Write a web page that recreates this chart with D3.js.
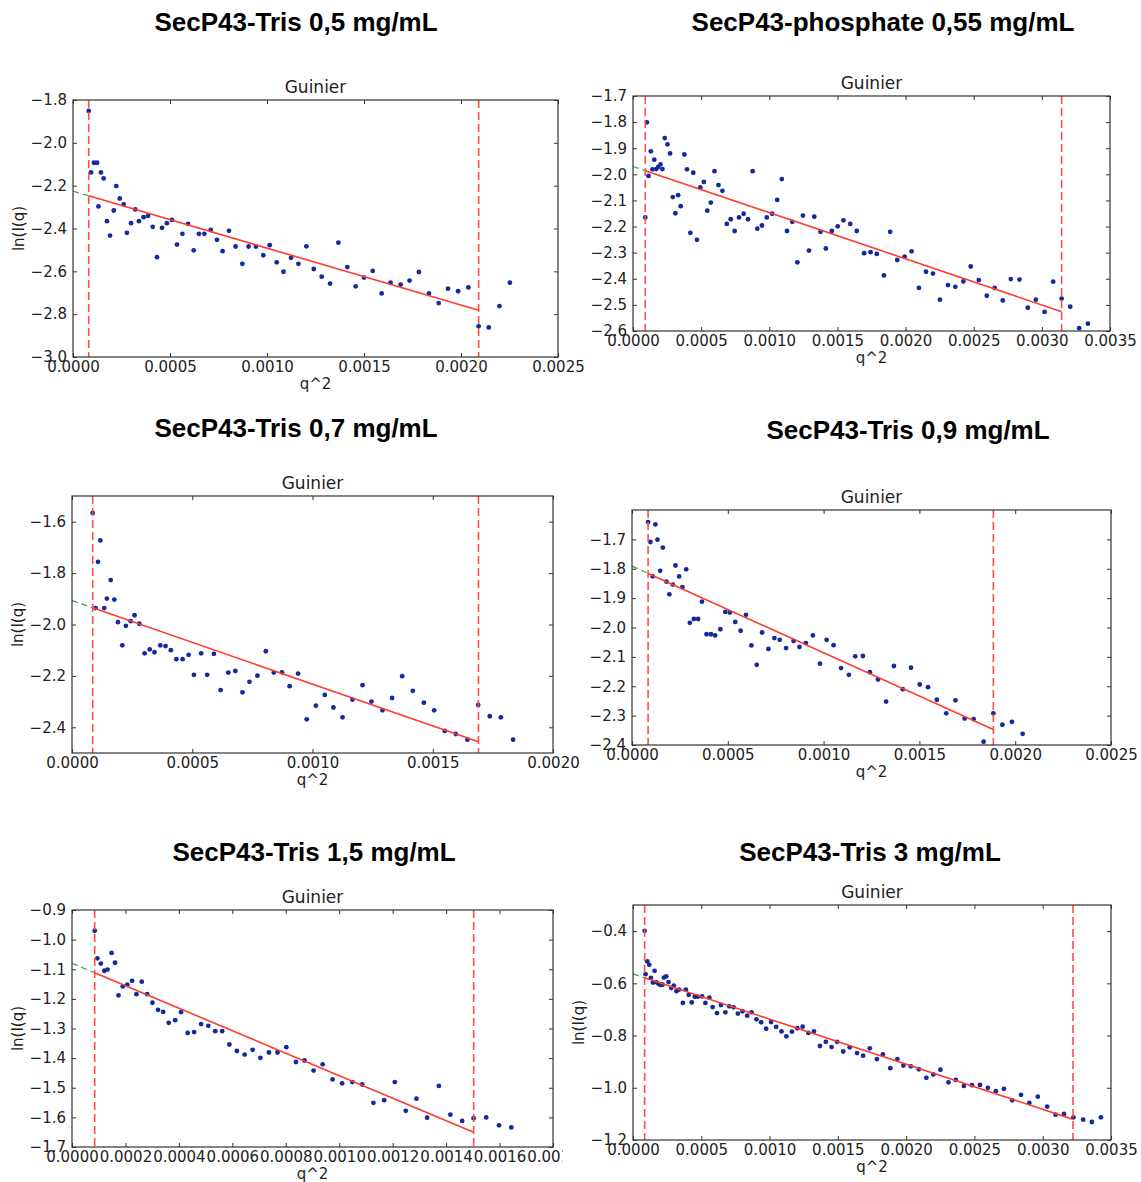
<!DOCTYPE html>
<html>
<head>
<meta charset="utf-8">
<script src="https://cdn.jsdelivr.net/npm/d3@7"></script>
<style>
  body { margin: 0; background: #fff; }
</style>
</head>
<body>
<script>
// panel titles
var titles = ["SecP43-Tris 0,5 mg/mL", "SecP43-phosphate 0,55 mg/mL", "SecP43-Tris 0,7 mg/mL",
              "SecP43-Tris 0,9 mg/mL", "SecP43-Tris 1,5 mg/mL", "SecP43-Tris 3 mg/mL"];

// [q^2, ln(I(q))]
var tris05 = [[0.000081,-1.851],[0.000093,-2.138],[0.000108,-2.093],[0.000124,-2.093],[0.000131,-2.297],[0.000144,-2.138],[0.000158,-2.166],[0.000175,-2.366],[0.000191,-2.433],[0.000210,-2.316],[0.000223,-2.202],[0.000241,-2.260],[0.000261,-2.288],[0.000278,-2.420],[0.000299,-2.375],[0.000321,-2.311],[0.000340,-2.366],[0.000364,-2.347],[0.000387,-2.341],[0.000411,-2.392],[0.000433,-2.534],[0.000459,-2.397],[0.000484,-2.375],[0.000510,-2.360],[0.000536,-2.475],[0.000564,-2.425],[0.000593,-2.378],[0.000622,-2.502],[0.000649,-2.425],[0.000677,-2.425],[0.000710,-2.406],[0.000742,-2.453],[0.000771,-2.506],[0.000804,-2.411],[0.000838,-2.484],[0.000873,-2.565],[0.000905,-2.484],[0.000943,-2.484],[0.000981,-2.525],[0.001014,-2.478],[0.001050,-2.558],[0.001085,-2.602],[0.001124,-2.537],[0.001162,-2.565],[0.001203,-2.483],[0.001241,-2.589],[0.001282,-2.625],[0.001325,-2.657],[0.001368,-2.466],[0.001414,-2.580],[0.001457,-2.670],[0.001500,-2.629],[0.001545,-2.598],[0.001591,-2.703],[0.001637,-2.653],[0.001689,-2.662],[0.001735,-2.643],[0.001783,-2.603],[0.001835,-2.703],[0.001885,-2.748],[0.001933,-2.681],[0.001985,-2.693],[0.002038,-2.675],[0.002091,-2.857],[0.002143,-2.862],[0.002198,-2.762],[0.002252,-2.653]];
var phos055 = [[0.000090,-2.165],[0.000102,-1.801],[0.000114,-2.006],[0.000131,-1.912],[0.000143,-1.981],[0.000156,-1.944],[0.000170,-1.980],[0.000185,-1.972],[0.000202,-1.962],[0.000216,-1.980],[0.000233,-1.861],[0.000253,-1.885],[0.000272,-1.920],[0.000292,-2.087],[0.000311,-2.149],[0.000331,-2.080],[0.000350,-2.122],[0.000377,-1.924],[0.000396,-1.981],[0.000421,-2.224],[0.000442,-1.994],[0.000469,-2.251],[0.000494,-2.050],[0.000520,-2.029],[0.000545,-2.139],[0.000571,-2.108],[0.000598,-1.988],[0.000627,-2.041],[0.000656,-2.063],[0.000688,-2.190],[0.000717,-2.172],[0.000746,-2.217],[0.000778,-2.165],[0.000812,-2.151],[0.000844,-2.172],[0.000878,-1.988],[0.000912,-2.208],[0.000946,-2.196],[0.000982,-2.165],[0.001021,-2.151],[0.001058,-2.098],[0.001092,-2.018],[0.001130,-2.217],[0.001169,-2.182],[0.001206,-2.337],[0.001247,-2.158],[0.001291,-2.292],[0.001330,-2.162],[0.001376,-2.220],[0.001415,-2.284],[0.001459,-2.217],[0.001502,-2.199],[0.001544,-2.176],[0.001594,-2.190],[0.001642,-2.217],[0.001696,-2.302],[0.001743,-2.298],[0.001789,-2.305],[0.001841,-2.387],[0.001887,-2.220],[0.001939,-2.328],[0.001993,-2.315],[0.002044,-2.295],[0.002098,-2.435],[0.002150,-2.373],[0.002201,-2.380],[0.002252,-2.480],[0.002311,-2.424],[0.002365,-2.431],[0.002424,-2.410],[0.002478,-2.353],[0.002537,-2.405],[0.002596,-2.465],[0.002654,-2.435],[0.002713,-2.483],[0.002772,-2.401],[0.002836,-2.403],[0.002897,-2.511],[0.002956,-2.480],[0.003020,-2.527],[0.003083,-2.411],[0.003145,-2.476],[0.003208,-2.507],[0.003274,-2.589],[0.003338,-2.572]];
var tris07 = [[0.000086,-1.566],[0.000098,-1.936],[0.000108,-1.756],[0.000118,-1.673],[0.000134,-1.936],[0.000145,-1.899],[0.000161,-1.827],[0.000176,-1.903],[0.000191,-1.991],[0.000209,-2.081],[0.000224,-2.005],[0.000244,-1.987],[0.000260,-1.964],[0.000280,-1.997],[0.000302,-2.112],[0.000323,-2.097],[0.000343,-2.108],[0.000367,-2.081],[0.000389,-2.084],[0.000411,-2.100],[0.000434,-2.135],[0.000460,-2.135],[0.000485,-2.118],[0.000507,-2.196],[0.000537,-2.112],[0.000562,-2.196],[0.000590,-2.114],[0.000618,-2.255],[0.000650,-2.187],[0.000679,-2.181],[0.000709,-2.264],[0.000738,-2.223],[0.000771,-2.199],[0.000806,-2.104],[0.000839,-2.187],[0.000873,-2.186],[0.000905,-2.240],[0.000940,-2.191],[0.000976,-2.369],[0.001014,-2.316],[0.001051,-2.274],[0.001087,-2.323],[0.001125,-2.361],[0.001166,-2.292],[0.001208,-2.236],[0.001245,-2.300],[0.001291,-2.334],[0.001331,-2.286],[0.001373,-2.201],[0.001417,-2.258],[0.001463,-2.304],[0.001506,-2.334],[0.001550,-2.414],[0.001596,-2.426],[0.001644,-2.448],[0.001689,-2.313],[0.001737,-2.357],[0.001783,-2.361],[0.001834,-2.448]];
var tris09 = [[0.000084,-1.641],[0.000096,-1.709],[0.000108,-1.826],[0.000122,-1.649],[0.000133,-1.701],[0.000147,-1.807],[0.000161,-1.728],[0.000180,-1.844],[0.000195,-1.887],[0.000213,-1.854],[0.000227,-1.789],[0.000246,-1.826],[0.000263,-1.863],[0.000283,-1.802],[0.000302,-1.984],[0.000323,-1.971],[0.000345,-1.971],[0.000365,-1.912],[0.000389,-2.023],[0.000412,-2.023],[0.000434,-2.027],[0.000461,-2.006],[0.000487,-1.947],[0.000511,-1.949],[0.000539,-1.981],[0.000567,-2.011],[0.000595,-1.957],[0.000623,-2.061],[0.000651,-2.127],[0.000679,-2.017],[0.000712,-2.073],[0.000743,-2.036],[0.000771,-2.042],[0.000804,-2.070],[0.000843,-2.046],[0.000874,-2.066],[0.000907,-2.053],[0.000944,-2.027],[0.000981,-2.123],[0.001016,-2.042],[0.001052,-2.060],[0.001091,-2.138],[0.001132,-2.161],[0.001165,-2.098],[0.001205,-2.097],[0.001242,-2.152],[0.001284,-2.177],[0.001326,-2.252],[0.001367,-2.131],[0.001413,-2.210],[0.001456,-2.137],[0.001502,-2.194],[0.001545,-2.203],[0.001591,-2.246],[0.001640,-2.292],[0.001688,-2.248],[0.001736,-2.310],[0.001783,-2.312],[0.001835,-2.389],[0.001886,-2.292],[0.001933,-2.331],[0.001983,-2.321],[0.002039,-2.362]];
var tris15 = [[0.000085,-0.970],[0.000095,-1.063],[0.000108,-1.081],[0.000121,-1.105],[0.000133,-1.101],[0.000148,-1.045],[0.000161,-1.078],[0.000174,-1.188],[0.000190,-1.158],[0.000207,-1.152],[0.000225,-1.139],[0.000241,-1.184],[0.000261,-1.142],[0.000281,-1.184],[0.000301,-1.213],[0.000322,-1.237],[0.000341,-1.244],[0.000362,-1.281],[0.000386,-1.272],[0.000408,-1.245],[0.000433,-1.315],[0.000457,-1.312],[0.000483,-1.285],[0.000510,-1.291],[0.000536,-1.309],[0.000562,-1.309],[0.000589,-1.354],[0.000617,-1.376],[0.000646,-1.388],[0.000676,-1.372],[0.000705,-1.399],[0.000737,-1.381],[0.000769,-1.381],[0.000802,-1.363],[0.000838,-1.413],[0.000870,-1.408],[0.000904,-1.442],[0.000938,-1.421],[0.000975,-1.472],[0.001011,-1.485],[0.001049,-1.481],[0.001086,-1.489],[0.001128,-1.551],[0.001168,-1.542],[0.001208,-1.481],[0.001249,-1.578],[0.001289,-1.537],[0.001329,-1.601],[0.001373,-1.494],[0.001416,-1.591],[0.001460,-1.612],[0.001503,-1.603],[0.001550,-1.600],[0.001598,-1.627],[0.001644,-1.634]];
var tris3 = [[0.000085,-0.399],[0.000092,-0.565],[0.000105,-0.516],[0.000119,-0.529],[0.000131,-0.579],[0.000146,-0.597],[0.000158,-0.552],[0.000173,-0.596],[0.000187,-0.602],[0.000202,-0.606],[0.000216,-0.605],[0.000226,-0.578],[0.000243,-0.573],[0.000260,-0.595],[0.000280,-0.618],[0.000299,-0.609],[0.000318,-0.630],[0.000338,-0.624],[0.000365,-0.675],[0.000387,-0.624],[0.000408,-0.644],[0.000430,-0.673],[0.000452,-0.651],[0.000474,-0.651],[0.000506,-0.650],[0.000530,-0.675],[0.000559,-0.655],[0.000583,-0.691],[0.000615,-0.714],[0.000644,-0.683],[0.000676,-0.711],[0.000705,-0.688],[0.000737,-0.692],[0.000768,-0.716],[0.000802,-0.707],[0.000836,-0.724],[0.000868,-0.711],[0.000904,-0.738],[0.000938,-0.749],[0.000975,-0.774],[0.001011,-0.748],[0.001048,-0.767],[0.001087,-0.784],[0.001123,-0.803],[0.001164,-0.785],[0.001203,-0.772],[0.001242,-0.766],[0.001284,-0.790],[0.001325,-0.784],[0.001369,-0.840],[0.001412,-0.824],[0.001454,-0.844],[0.001495,-0.824],[0.001539,-0.861],[0.001587,-0.845],[0.001641,-0.867],[0.001685,-0.877],[0.001734,-0.849],[0.001786,-0.890],[0.001830,-0.872],[0.001884,-0.925],[0.001936,-0.890],[0.001980,-0.915],[0.002034,-0.918],[0.002093,-0.929],[0.002148,-0.962],[0.002199,-0.949],[0.002251,-0.931],[0.002310,-0.979],[0.002364,-0.970],[0.002423,-0.993],[0.002482,-0.990],[0.002541,-0.989],[0.002598,-1.000],[0.002657,-1.013],[0.002716,-1.004],[0.002777,-1.048],[0.002841,-1.027],[0.002902,-1.058],[0.002964,-1.034],[0.003033,-1.072],[0.003094,-1.103],[0.003156,-1.100],[0.003225,-1.113],[0.003296,-1.122],[0.003360,-1.131],[0.003426,-1.113]];

// Guinier range limits (q^2 min / max) per panel
var cutLines = [[0.000081, 0.002091], [0.000090, 0.003145], [0.000086, 0.001690],
                [0.000084, 0.001886], [0.000085, 0.001503], [0.000085, 0.003222]];
// fitted line end points
var fitLines = [[[0.000081,-2.247],[0.002091,-2.782]], [[0.000090,-1.986],[0.003145,-2.526]],
                [[0.000086,-1.935],[0.001690,-2.456]], [[0.000084,-1.816],[0.001886,-2.347]],
                [[0.000085,-1.112],[0.001503,-1.650]], [[0.000085,-0.579],[0.003222,-1.121]]];
// extrapolation to q^2 = 0
var guideLines = [[[0,-2.226],[0.000081,-2.247]], [[0,-1.970],[0.000090,-1.986]],
                  [[0,-1.907],[0.000086,-1.935]], [[0,-1.791],[0.000084,-1.816]],
                  [[0,-1.080],[0.000085,-1.112]], [[0,-0.564],[0.000085,-0.579]]];

// axis ranges and tick values
var xDomains = [[0, 0.0025], [0, 0.0035], [0, 0.0020], [0, 0.0025], [0, 0.0018], [0, 0.0035]];
var yDomains = [[-3.0, -1.8], [-2.6, -1.7], [-2.5, -1.5], [-2.4, -1.6], [-1.7, -0.9], [-1.2, -0.3]];
var xTicks = [
    [0, 0.0005, 0.0010, 0.0015, 0.0020, 0.0025],
    [0, 0.0005, 0.0010, 0.0015, 0.0020, 0.0025, 0.0030, 0.0035],
    [0, 0.0005, 0.0010, 0.0015, 0.0020],
    [0, 0.0005, 0.0010, 0.0015, 0.0020, 0.0025],
    [0, 0.0002, 0.0004, 0.0006, 0.0008, 0.0010, 0.0012, 0.0014, 0.0016, 0.0018],
    [0, 0.0005, 0.0010, 0.0015, 0.0020, 0.0025, 0.0030, 0.0035]
];
var yTicks = [
    [-3.0, -2.8, -2.6, -2.4, -2.2, -2.0, -1.8],
    [-2.6, -2.5, -2.4, -2.3, -2.2, -2.1, -2.0, -1.9, -1.8, -1.7],
    [-2.4, -2.2, -2.0, -1.8, -1.6],
    [-2.4, -2.3, -2.2, -2.1, -2.0, -1.9, -1.8, -1.7],
    [-1.7, -1.6, -1.5, -1.4, -1.3, -1.2, -1.1, -1.0, -0.9],
    [-1.2, -1.0, -0.8, -0.6, -0.4]
];
var seriesList = [tris05, phos055, tris07, tris09, tris15, tris3];

// layout of the six pasted plots
var boxes = [
    {left: 73, top: 100, right: 558, bottom: 357, tx: 296, ty: 31, ylab: true},
    {left: 633, top: 96, right: 1110, bottom: 331, tx: 883, ty: 31, ylab: false},
    {left: 72, top: 496, right: 553, bottom: 753, tx: 296, ty: 437, ylab: true},
    {left: 632, top: 510, right: 1111, bottom: 745, tx: 908, ty: 439, ylab: false},
    {left: 72, top: 910, right: 553, bottom: 1147, tx: 314, ty: 861, ylab: true, clip: 563},
    {left: 633, top: 905, right: 1111, bottom: 1140, tx: 870, ty: 861, ylab: true}
];

var w = 1141;
var h = 1182;
var tickFont = "'DejaVu Sans', sans-serif";

var svg = d3.select("body")
    .append("svg")
    .attr("width", w)
    .attr("height", h);

boxes.forEach(function (b, i) {
    drawPanel(b, i);
});

function drawPanel(b, i) {
    var xScale = d3.scaleLinear().domain(xDomains[i]).range([b.left, b.right]);
    var yScale = d3.scaleLinear().domain(yDomains[i]).range([b.bottom, b.top]);

    // big bold title above each plot
    svg.append("text")
        .attr("x", b.tx)
        .attr("y", b.ty)
        .attr("text-anchor", "middle")
        .attr("font-family", "'Liberation Sans', Arial, sans-serif")
        .attr("font-weight", "bold")
        .attr("font-size", 26)
        .attr("fill", "#000")
        .text(titles[i]);

    var g = svg.append("g");
    if (b.clip) {
        // the pasted picture is cut off on its right side
        svg.append("clipPath")
            .attr("id", "clip" + i)
            .append("rect")
            .attr("x", 0).attr("y", b.top - 40)
            .attr("width", b.clip).attr("height", h - b.top + 40);
        g.attr("clip-path", "url(#clip" + i + ")");
    }

    g.append("text")
        .attr("x", (b.left + b.right) / 2)
        .attr("y", b.top - 7)
        .attr("text-anchor", "middle")
        .attr("font-family", tickFont)
        .attr("font-size", 17)
        .attr("fill", "#222")
        .text("Guinier");

    // scatter points
    g.selectAll(".dot")
        .data(seriesList[i])
        .enter()
        .append("circle")
        .attr("cx", function (d) { return xScale(d[0]); })
        .attr("cy", function (d) { return yScale(d[1]); })
        .attr("r", 2.4)
        .style("fill", "#14299c");

    var line = d3.line()
        .x(function (d) { return xScale(d[0]); })
        .y(function (d) { return yScale(d[1]); });

    g.append("path")
        .datum(guideLines[i])
        .attr("fill", "none")
        .attr("stroke", "#3fa33f")
        .attr("stroke-width", 1.2)
        .attr("stroke-dasharray", "6,4")
        .attr("d", line);

    g.append("path")
        .datum(fitLines[i])
        .attr("fill", "none")
        .attr("stroke", "#ff3b30")
        .attr("stroke-width", 1.6)
        .attr("d", line);

    g.selectAll(".cut")
        .data(cutLines[i])
        .enter()
        .append("line")
        .attr("x1", function (d) { return xScale(d); })
        .attr("x2", function (d) { return xScale(d); })
        .attr("y1", b.top)
        .attr("y2", b.bottom)
        .attr("stroke", "#ff4d4d")
        .attr("stroke-width", 1.6)
        .attr("stroke-dasharray", "8,4");

    // axes: inward ticks on all four sides
    var xAxis = d3.axisBottom(xScale)
        .tickValues(xTicks[i])
        .tickFormat(d3.format(".4f"))
        .tickSizeInner(-4).tickSizeOuter(0).tickPadding(4);
    var yAxis = d3.axisLeft(yScale)
        .tickValues(yTicks[i])
        .tickFormat(d3.format(".1f"))
        .tickSizeInner(-4).tickSizeOuter(0).tickPadding(6);
    var xTop = d3.axisTop(xScale).tickValues(xTicks[i]).tickFormat("")
        .tickSizeInner(-4).tickSizeOuter(0);
    var yRight = d3.axisRight(yScale).tickValues(yTicks[i]).tickFormat("")
        .tickSizeInner(-4).tickSizeOuter(0);

    var axes = [
        g.append("g").attr("transform", "translate(0," + b.bottom + ")").call(xAxis),
        g.append("g").attr("transform", "translate(" + b.left + ",0)").call(yAxis),
        g.append("g").attr("transform", "translate(0," + b.top + ")").call(xTop),
        g.append("g").attr("transform", "translate(" + b.right + ",0)").call(yRight)
    ];
    axes.forEach(function (a) {
        a.select(".domain").remove();
        a.selectAll("line").attr("stroke", "#333");
        a.selectAll("text")
            .attr("font-family", tickFont)
            .attr("font-size", 15)
            .attr("fill", "#222");
    });

    g.append("rect")
        .attr("x", b.left)
        .attr("y", b.top)
        .attr("width", b.right - b.left)
        .attr("height", b.bottom - b.top)
        .attr("fill", "none")
        .attr("stroke", "#333")
        .attr("stroke-width", 1.2);

    g.append("text")
        .attr("x", (b.left + b.right) / 2)
        .attr("y", b.bottom + 32)
        .attr("text-anchor", "middle")
        .attr("font-family", tickFont)
        .attr("font-size", 15)
        .attr("fill", "#222")
        .text("q^2");

    if (b.ylab) {
        g.append("text")
            .attr("transform", "translate(" + (b.left - 49) + "," + ((b.top + b.bottom) / 2) + ") rotate(-90)")
            .attr("text-anchor", "middle")
            .attr("font-family", tickFont)
            .attr("font-size", 15)
            .attr("fill", "#222")
            .text("ln(I(q)");
    }
}
</script>
</body>
</html>
